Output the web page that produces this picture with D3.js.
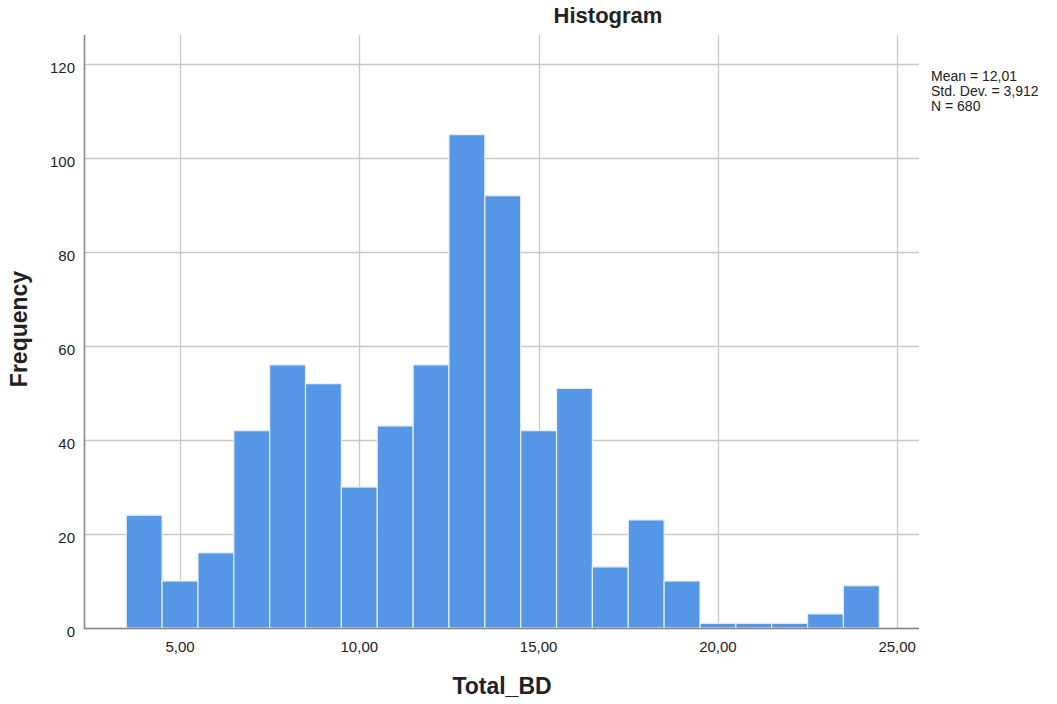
<!DOCTYPE html>
<html>
<head>
<meta charset="utf-8">
<script src="https://cdn.jsdelivr.net/npm/d3@7"></script>
<style>
  body { margin: 0; background: #fff; }
  text { font-family: "Liberation Sans", Arial, sans-serif; fill: #222; }
</style>
</head>
<body>
<svg id="chart"></svg>
<script>
// bins of width 1, lower edges
const binStarts = [3.5, 4.5, 5.5, 6.5, 7.5, 8.5, 9.5, 10.5, 11.5, 12.5, 13.5,
                   14.5, 15.5, 16.5, 17.5, 18.5, 19.5, 20.5, 21.5, 22.5, 23.5];
const counts = [24, 10, 16, 42, 56, 52, 30, 43, 56, 105, 92,
                42, 51, 13, 23, 10, 1, 1, 1, 3, 9];
const xTicks = [5, 10, 15, 20, 25];
const yTicks = [0, 20, 40, 60, 80, 100, 120];
const stats = ["Mean = 12,01", "Std. Dev. = 3,912", "N = 680"];

const width = 1057, height = 704;
const plotLeft = 85, plotRight = 918, plotTop = 35, plotBottom = 628;

const svg = d3.select("#chart")
    .attr("width", width)
    .attr("height", height);

const x = d3.scaleLinear().domain([2.35, 25.58]).range([plotLeft, plotRight]);
const y = d3.scaleLinear().domain([0, 126.2]).range([plotBottom, plotTop]);

const fmt = d => d.toFixed(2).replace(".", ",");

// grid
svg.append("g").selectAll("line")
    .data(yTicks)
    .join("line")
    .attr("x1", plotLeft).attr("x2", plotRight + 1)
    .attr("y1", d => Math.round(y(d)) + 0.5).attr("y2", d => Math.round(y(d)) + 0.5)
    .attr("stroke", "#c8c8c8").attr("stroke-width", 1.3);

svg.append("g").selectAll("line")
    .data(xTicks)
    .join("line")
    .attr("x1", d => Math.round(x(d)) + 0.5).attr("x2", d => Math.round(x(d)) + 0.5)
    .attr("y1", plotTop).attr("y2", plotBottom)
    .attr("stroke", "#c8c8c8").attr("stroke-width", 1.3);

// bars
svg.append("g").selectAll("rect")
    .data(counts)
    .join("rect")
    .attr("x", (d, i) => x(binStarts[i]))
    .attr("width", (d, i) => x(binStarts[i] + 1) - x(binStarts[i]))
    .attr("y", d => y(d))
    .attr("height", d => plotBottom - y(d))
    .attr("fill", "#5596e6")
    .attr("stroke", "#e6eefa")
    .attr("stroke-width", 1.2);

// axes lines
svg.append("line")
    .attr("x1", plotLeft - 0.5).attr("x2", plotLeft - 0.5)
    .attr("y1", plotTop).attr("y2", plotBottom + 1)
    .attr("stroke", "#888").attr("stroke-width", 1.6);
svg.append("line")
    .attr("x1", plotLeft - 1).attr("x2", plotRight + 1)
    .attr("y1", plotBottom + 0.5).attr("y2", plotBottom + 0.5)
    .attr("stroke", "#888").attr("stroke-width", 1.6);

// tick labels
svg.append("g").selectAll("text")
    .data(yTicks)
    .join("text")
    .attr("x", 75)
    .attr("y", d => y(d) + 9)
    .attr("text-anchor", "end")
    .style("font-size", "15px")
    .text(d => d);

svg.append("g").selectAll("text")
    .data(xTicks)
    .join("text")
    .attr("x", d => x(d))
    .attr("y", 652)
    .attr("text-anchor", "middle")
    .style("font-size", "15px")
    .text(fmt);

// titles
svg.append("text")
    .attr("x", 608).attr("y", 23)
    .attr("text-anchor", "middle")
    .style("font-size", "22px").style("font-weight", "bold")
    .text("Histogram");

svg.append("text")
    .attr("x", 502).attr("y", 694)
    .attr("text-anchor", "middle")
    .style("font-size", "23px").style("font-weight", "bold")
    .text("Total_BD");

svg.append("text")
    .attr("transform", "translate(27, 329) rotate(-90)")
    .attr("text-anchor", "middle")
    .style("font-size", "23px").style("font-weight", "bold")
    .text("Frequency");

// stats box
svg.append("g").selectAll("text")
    .data(stats)
    .join("text")
    .attr("x", 931)
    .attr("y", (d, i) => 81 + i * 15)
    .style("font-size", "14px")
    .text(d => d);
</script>
</body>
</html>
